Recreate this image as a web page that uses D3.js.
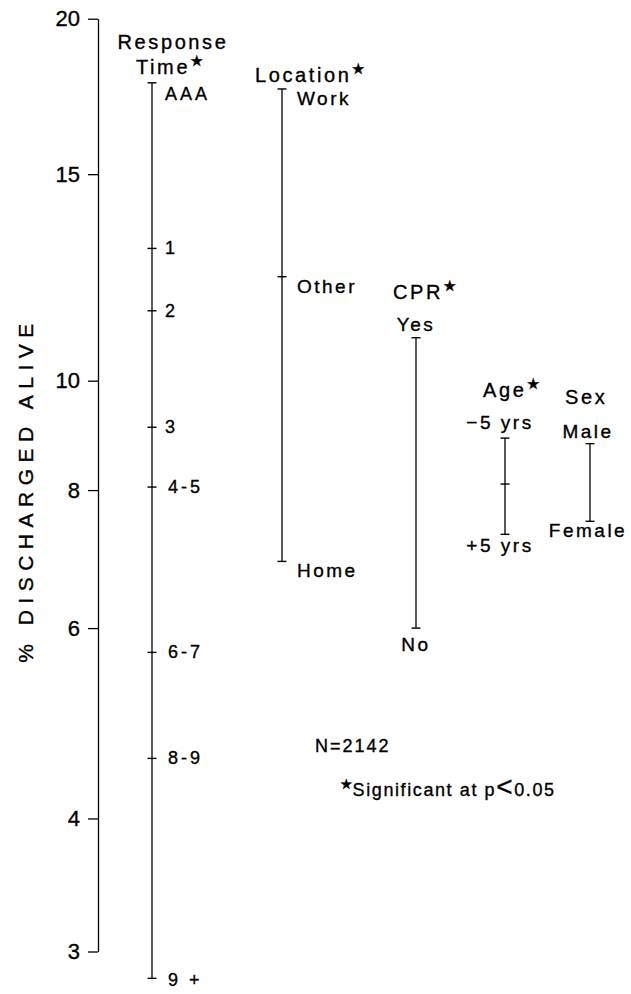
<!DOCTYPE html>
<html>
<head>
<meta charset="utf-8">
<script src="https://cdn.jsdelivr.net/npm/d3@7"></script>
<style>
  body { margin: 0; background: #fff; }
  text { font-family: "Liberation Sans", Arial, "DejaVu Sans", sans-serif; fill: #000; stroke: #000; stroke-width: 0.35px; }
</style>
</head>
<body>
<div id="chart"></div>
<script>
// axis ticks (% discharged alive, logit scale)
var tickValues = [3, 4, 6, 8, 10, 15, 20];

// groups
var groups = ["Response Time", "Location", "CPR", "Age", "Sex"];
var significant = [true, true, true, true, false];

var rtLabels = ["AAA", "1", "2", "3", "4-5", "6-7", "8-9", "9 +"];
var rtValues = [17.8, 13.0, 11.5, 9.1, 8.05, 5.7, 4.55, 2.83];

var locLabels = ["Work", "Other", "Home"];
var locValues = [17.6, 12.3, 6.9];

var cprLabels = ["Yes", "No"];
var cprValues = [10.9, 6.0];

var ageLabels = ["\u22125 yrs", "", "+5 yrs"];
var ageValues = [8.9, 8.1, 7.3];

var sexLabels = ["Male", "Female"];
var sexValues = [8.8, 7.5];

var series = [
  {labels: rtLabels, values: rtValues},
  {labels: locLabels, values: locValues},
  {labels: cprLabels, values: cprValues},
  {labels: ageLabels, values: ageValues},
  {labels: sexLabels, values: sexValues}
];

var width = 631, height = 994;

var svg = d3.select("#chart").append("svg")
  .attr("width", width)
  .attr("height", height);

var logit = function(p) { return Math.log(p / (1 - p)); };

var y = d3.scaleLinear()
  .domain([logit(0.03), logit(0.20)])
  .range([951.5, 18.7]);

var yv = function(v) { return y(logit(v / 100)); };

var x = d3.scaleOrdinal()
  .domain(groups)
  .range([152, 282, 416, 505, 590]);

// y axis
var axis = svg.append("g")
  .attr("transform", "translate(98,0)")
  .call(d3.axisLeft(y)
    .tickValues(tickValues.map(function(t) { return logit(t / 100); }))
    .tickFormat(function(d) { return Math.round(100 / (1 + Math.exp(-d))); })
    .tickSize(10)
    .tickPadding(8)
    .tickSizeOuter(0));
axis.selectAll("text")
  .style("font-size", "22px")
  .attr("fill", "#000");
axis.selectAll("line, path").attr("stroke", "#000").attr("stroke-width", 1.3);

svg.append("text")
  .attr("transform", "translate(33,490) rotate(-90)")
  .attr("text-anchor", "middle")
  .style("font-size", "21px")
  .style("letter-spacing", "6.5px")
  .text("% DISCHARGED ALIVE");

// per-group text layout
var layout = [
  {title: ["Response", "Time"], tx: [21, -16], ty: [-34, -9], anchor: ["middle", "start"]},
  {title: ["Location"], tx: [-27], ty: [-7], anchor: ["start"]},
  {title: ["CPR"], tx: [-23], ty: [-39], anchor: ["start"]},
  {title: ["Age"], tx: [-22], ty: [-41], anchor: ["start"]},
  {title: ["Sex"], tx: [-25], ty: [-40], anchor: ["start"]}
];

function labelPos(gi, i, n, cy) {
  // returns [dx, baseline y, anchor]
  if (gi === 0) {
    var off = i === 0 ? 11 : (i === n - 1 ? 2 : 0);
    return [13 + (i > 3 ? 3 : 0), cy + off + 6, "start"];
  }
  if (gi === 1) return [15, cy + 9 + 7, "start"];
  if (gi === 2) return [0, i === 0 ? cy - 7 : cy + 23, "middle"];
  if (gi === 3) return [-5, i === 0 ? cy - 9 : cy + 18, "middle"];
  return [-2, i === 0 ? cy - 6 : cy + 16, "middle"];
}

series.forEach(function(s, gi) {
  var gx = x(groups[gi]);
  var g = svg.append("g");
  var ext = d3.extent(s.values);

  g.append("line")
    .attr("x1", gx).attr("x2", gx)
    .attr("y1", yv(ext[1])).attr("y2", yv(ext[0]))
    .attr("stroke", "#000").attr("stroke-width", 1.3);

  g.selectAll(".tick")
    .data(s.values)
    .enter().append("line")
    .attr("x1", gx - 4.5).attr("x2", gx + 4.5)
    .attr("y1", function(d) { return yv(d); })
    .attr("y2", function(d) { return yv(d); })
    .attr("stroke", "#000").attr("stroke-width", 1.4);

  g.selectAll(".lab")
    .data(s.labels)
    .enter().append("text")
    .each(function(d, i) {
      var p = labelPos(gi, i, s.labels.length, yv(s.values[i]));
      d3.select(this)
        .attr("x", gx + p[0])
        .attr("y", p[1])
        .attr("text-anchor", p[2]);
    })
    .style("font-size", gi === 0 ? "18px" : "19px")
    .style("letter-spacing", gi === 0 ? "3px" : "2.5px")
    .text(function(d) { return d; });

  var L = layout[gi];
  var top = yv(ext[1]);
  L.title.forEach(function(t, k) {
    var tt = g.append("text")
      .attr("x", gx + L.tx[k])
      .attr("y", top + L.ty[k])
      .attr("text-anchor", L.anchor[k])
      .style("font-size", "20px")
      .style("letter-spacing", "2.6px")
      .text(t);
    if (k === L.title.length - 1 && significant[gi]) {
      tt.append("tspan")
        .attr("dx", 0)
        .attr("dy", -8)
        .style("font-size", "15px")
        .style("font-family", "DejaVu Sans")
        .style("letter-spacing", "0px")
        .text("\u2605");
    }
  });
});

// notes
svg.append("text")
  .attr("x", 315).attr("y", 752)
  .style("font-size", "18px")
  .style("letter-spacing", "2px")
  .text("N=2142");

var note = svg.append("text")
  .attr("x", 340).attr("y", 796)
  .style("font-size", "18px")
  .style("letter-spacing", "1.6px");
note.append("tspan")
  .attr("dy", -7)
  .style("font-size", "14px")
  .style("font-family", "DejaVu Sans")
  .style("letter-spacing", "0px")
  .text("\u2605");
note.append("tspan").attr("dy", 7).text("Significant at p");
note.append("tspan")
  .style("font-size", "28px")
  .text("<");
note.append("tspan").text("0.05");
</script>
</body>
</html>
